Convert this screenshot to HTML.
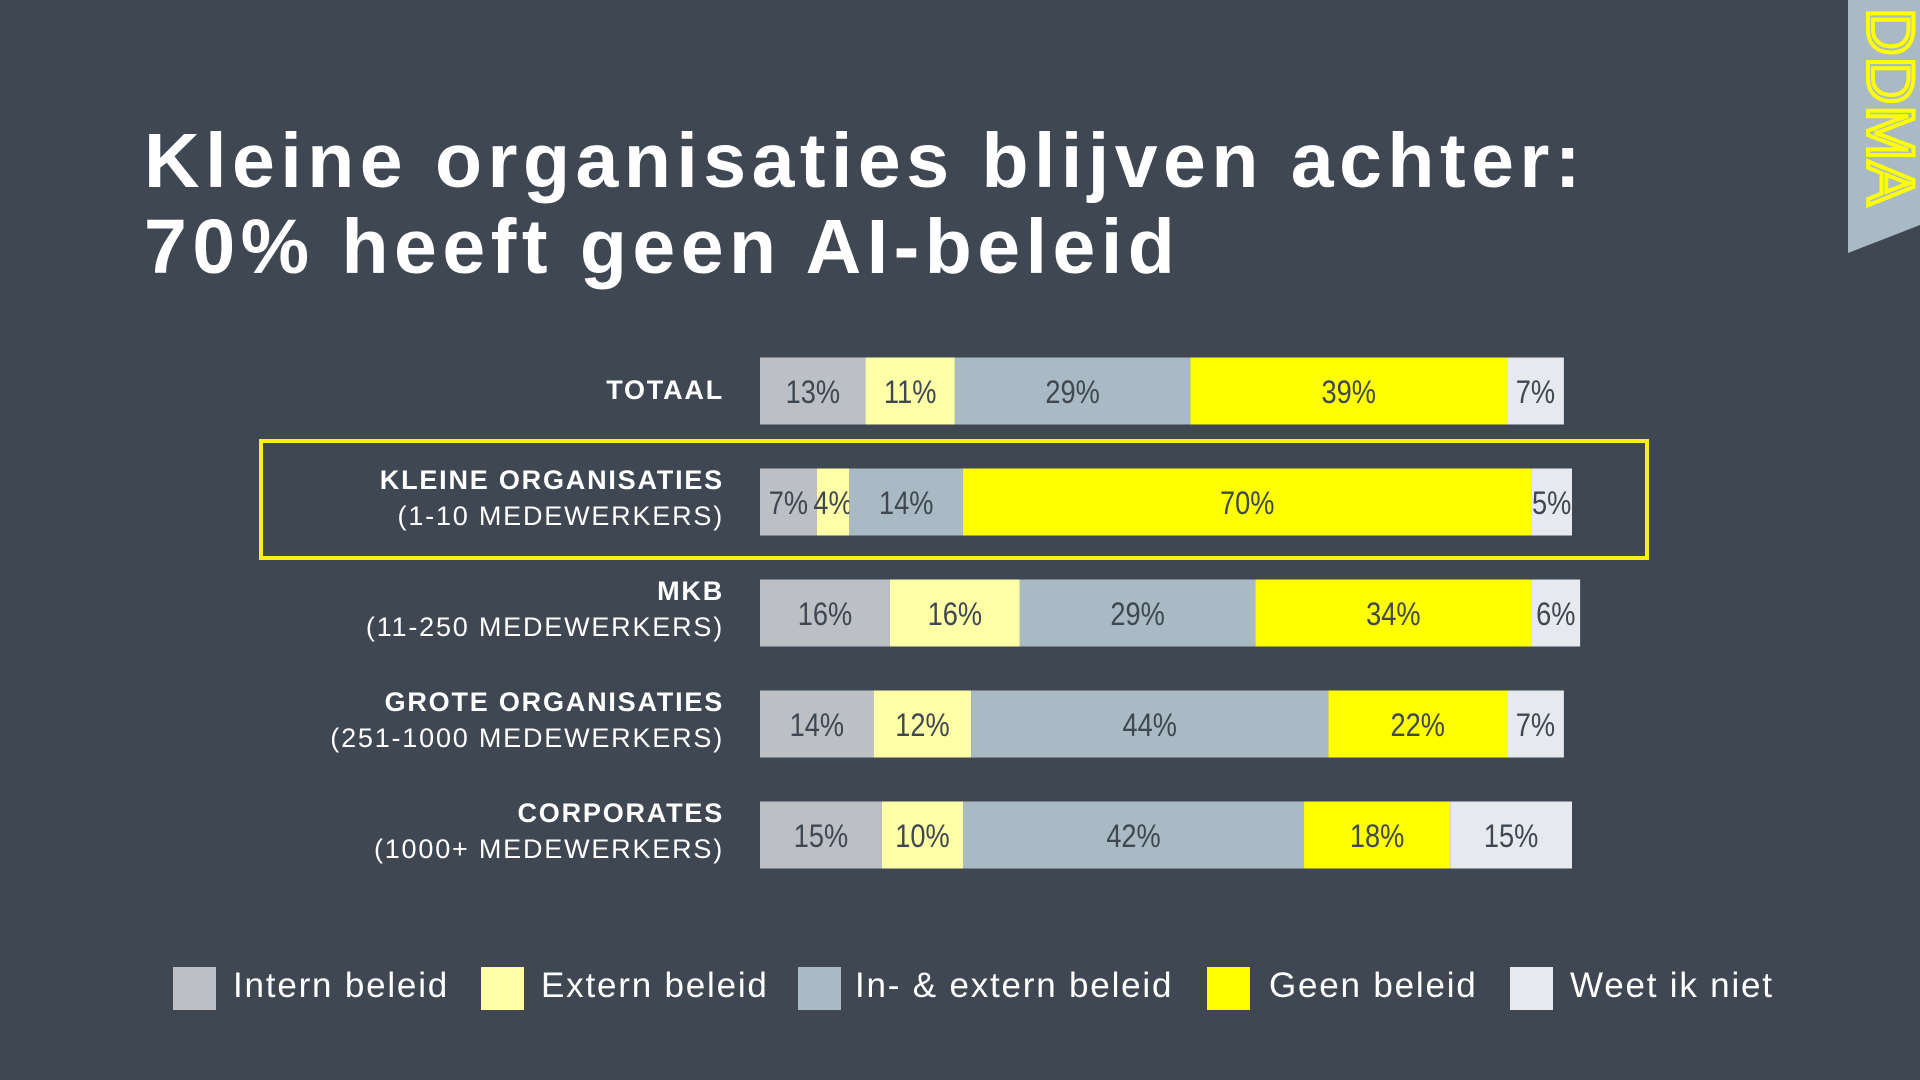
<!DOCTYPE html>
<html><head><meta charset="utf-8"><style>
body{margin:0;width:1920px;height:1080px;background:#3f4852;overflow:hidden;font-family:"Liberation Sans",sans-serif;position:relative}
.title{position:absolute;left:144px;top:118px;color:#fff;font-weight:bold;font-size:77px;line-height:86px;letter-spacing:5.5px}
.lab{position:absolute;right:1196px;text-align:right;color:#fff;font-size:27px;line-height:36px;letter-spacing:1.8px}
.lab b{display:block}
.sq{position:absolute;top:967px;width:43px;height:43px}
.lt{position:absolute;top:966px;color:#fff;font-size:35px;line-height:40px;letter-spacing:1.8px}
</style></head><body>
<div class="title">Kleine organisaties blijven achter:<br>70% heeft geen AI-beleid</div>
<svg style="position:absolute;left:1848px;top:0" width="72" height="260">
<polygon points="0,0 72,0 72,225 0,253" fill="#a9b9c6"/>
<text x="0" y="0" transform="translate(20,8) rotate(90)" font-family="Liberation Sans" font-size="66" fill="none" stroke="#ffff00" stroke-width="4" letter-spacing="1">DDMA</text>
</svg>
<div style="position:absolute;left:259px;top:439px;width:1382px;height:113px;border:4px solid #f7ee1b"></div>
<svg id="chart" style="position:absolute;left:0;top:0" width="1920" height="1080"></svg>
<div id="labels"></div>
<div>
<div class="sq" style="left:173px;background:#bcc0c4"></div><div class="lt" style="left:233px">Intern beleid</div>
<div class="sq" style="left:481px;background:#ffffa8"></div><div class="lt" style="left:541px">Extern beleid</div>
<div class="sq" style="left:798px;background:#aabac5"></div><div class="lt" style="left:855px">In- &amp; extern beleid</div>
<div class="sq" style="left:1207px;background:#ffff00"></div><div class="lt" style="left:1269px">Geen beleid</div>
<div class="sq" style="left:1510px;background:#e6e9ee"></div><div class="lt" style="left:1570px">Weet ik niet</div>
</div>
<script>
const categories=["TOTAAL","KLEINE ORGANISATIES","MKB","GROTE ORGANISATIES","CORPORATES"];
const subLabels=["","(1-10 MEDEWERKERS)","(11-250 MEDEWERKERS)","(251-1000 MEDEWERKERS)","(1000+ MEDEWERKERS)"];
const intern=[13,7,16,14,15];
const extern=[11,4,16,12,10];
const inExtern=[29,14,29,44,42];
const geen=[39,70,34,22,18];
const weet=[7,5,6,7,15];
const seriesNames=["intern","extern","in-extern","geen","weet"];
const colors=["#bcc0c4","#ffffa8","#aabac5","#ffff00","#e6e9ee"];
const series=[intern,extern,inExtern,geen,weet];
const x0=760,pxPer=8.12,y0=391,rowStep=111,barH=67;
const xs=v=>v*pxPer;
const yc=i=>y0+i*rowStep;
const svg=document.getElementById('chart');
const NS='http://www.w3.org/2000/svg';
categories.forEach((c,i)=>{
  let x=x0;
  series.forEach((s,k)=>{
    const w=xs(s[i]);
    const r=document.createElementNS(NS,'rect');
    r.setAttribute('x',x);r.setAttribute('y',yc(i)-barH/2);r.setAttribute('width',w);r.setAttribute('height',barH);r.setAttribute('fill',colors[k]);
    
    
    svg.appendChild(r);
    const t=document.createElementNS(NS,'text');
    t.setAttribute('x',0);t.setAttribute('y',0);t.setAttribute('text-anchor','middle');
    t.setAttribute('transform','translate('+(x+w/2)+','+(yc(i)+12)+') scale(0.85,1)');
    t.setAttribute('font-family','"Liberation Sans",sans-serif');t.setAttribute('font-size','32');t.setAttribute('fill','#3f4852');
    t.textContent=s[i]+'%';
    
    
    svg.appendChild(t);
    x+=w;
  });
  const d=document.createElement('div');
  d.className='lab';
  d.style.top=(subLabels[i]?yc(i)-40:yc(i)-19)+'px';
  d.innerHTML='<b>'+c+'</b>'+(subLabels[i]?'<span>'+subLabels[i]+'</span>':'');
  
  
  document.getElementById('labels').appendChild(d);
});
</script>
</body></html>
